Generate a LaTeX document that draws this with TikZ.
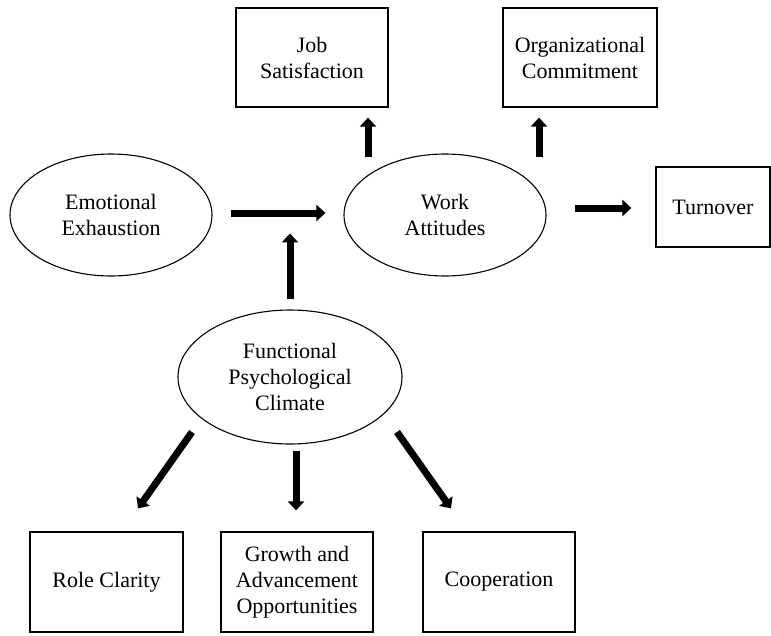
\documentclass[tikz,border=0pt]{standalone}
\usepackage{fontspec}
\setmainfont{Liberation Serif}
\usetikzlibrary{arrows.meta,shapes.geometric}
\begin{document}
\begin{tikzpicture}[x=1pt,y=-1pt,
  txt/.style={font=\fontsize{22}{26}\selectfont, align=center, inner sep=0pt},
  box/.style={txt, draw, rectangle, line width=1.2pt},
  oval/.style={txt, draw, ellipse, line width=1.1pt},
  bigarrow/.style={line width=7pt, -{Triangle[width=16pt,length=9pt]}}]
\useasboundingbox (0,0) rectangle (771,635);
\fill[white] (0,0) rectangle (771,635);
\node[box, minimum width=152pt, minimum height=99pt] (job) at (312,57.5) {Job\\Satisfaction};
\node[box, minimum width=154pt, minimum height=99pt] (oc) at (580,57.5) {Organizational\\Commitment};
\node[box, minimum width=114pt, minimum height=80pt] (to) at (713,207) {Turnover};
\node[oval, minimum width=202pt, minimum height=122pt] (ee) at (111,215) {Emotional\\Exhaustion};
\node[oval, minimum width=202pt, minimum height=122pt] (wa) at (445,215) {Work\\Attitudes};
\node[oval, minimum width=224pt, minimum height=134pt] (fpc) at (290,377) {Functional\\Psychological\\Climate};
\node[box, minimum width=153pt, minimum height=100pt] (role) at (106.5,582) {Role Clarity};
\node[box, minimum width=152pt, minimum height=100pt] (grow) at (297,582) {Growth and\\Advancement\\Opportunities};
\node[box, minimum width=152pt, minimum height=100pt] (coop) at (499,582) {Cooperation};
\draw[bigarrow] ([shift={(18,-2)}]ee.east) -- ([shift={(-18,-2)}]wa.west);
\draw[bigarrow] ([shift={(0,-10)}]fpc.north) -- ([shift={(0,-76)}]fpc.north);
\draw[bigarrow] ([shift={(-77,4)}]wa.north) -- ([shift={(56,10)}]job.south);
\draw[bigarrow] ([shift={(94,4)}]wa.north) -- ([shift={(-41,10)}]oc.south);
\draw[bigarrow] ([shift={(28,-7)}]wa.east) -- ([shift={(-24,1)}]to.west);
\draw[bigarrow] ([shift={(-98,55)}]fpc.center) -- ([shift={(31.5,-23)}]role.north);
\draw[bigarrow] ([shift={(6,74)}]fpc.center) -- ([shift={(-1,-21)}]grow.north);
\draw[bigarrow] ([shift={(107,55)}]fpc.center) -- ([shift={(-48,-23)}]coop.north);
\end{tikzpicture}
\end{document}
